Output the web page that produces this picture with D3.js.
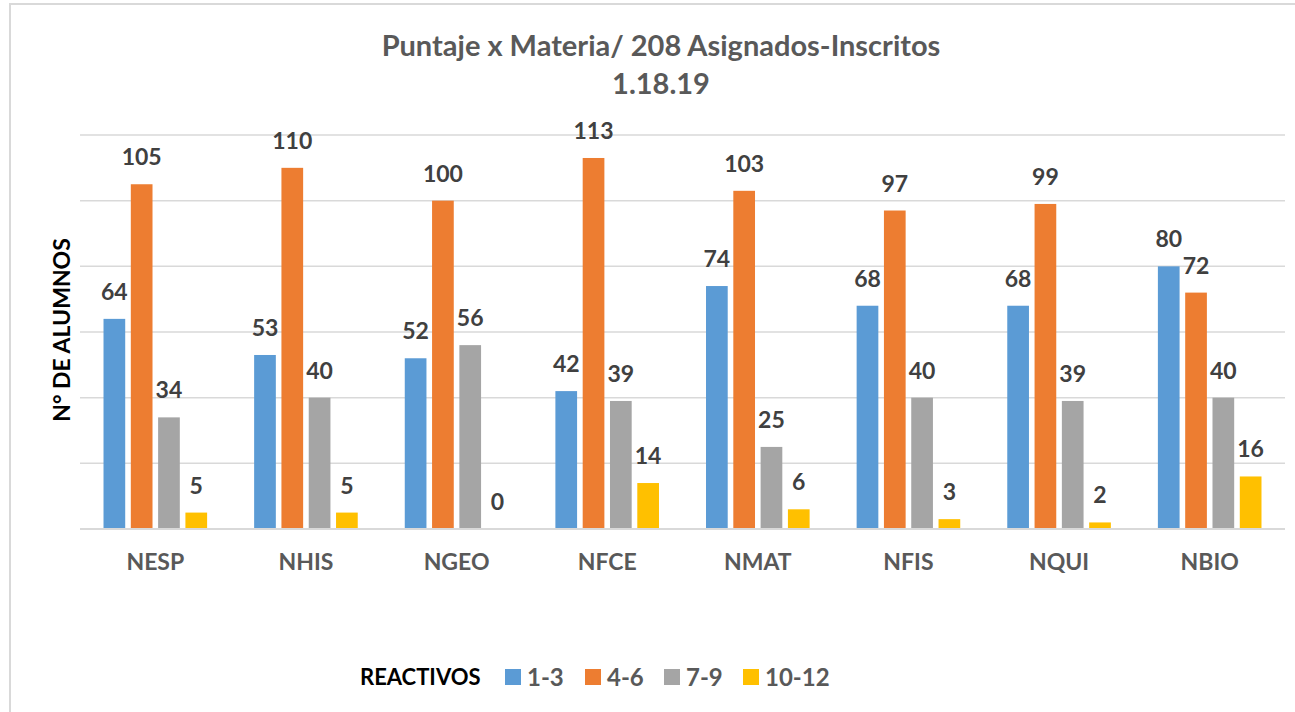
<!DOCTYPE html>
<html>
<head>
<meta charset="utf-8">
<script src="https://cdn.jsdelivr.net/npm/d3@7"></script>
<style>
  body { margin: 0; background: #fff; }
  svg { display: block; font-family: Lato, "Open Sans", sans-serif; font-weight: bold; }
</style>
</head>
<body>
<svg></svg>
<script>
const categories = ["NESP", "NHIS", "NGEO", "NFCE", "NMAT", "NFIS", "NQUI", "NBIO"];
const seriesNames = ["1-3", "4-6", "7-9", "10-12"];
const colors = ["#5b9bd5", "#ed7d31", "#a5a5a5", "#ffc000"];
const s13 = [64, 53, 52, 42, 74, 68, 68, 80];
const s46 = [105, 110, 100, 113, 103, 97, 99, 72];
const s79 = [34, 40, 56, 39, 25, 40, 39, 40];
const s1012 = [5, 5, 0, 14, 6, 3, 2, 16];
const yTicks = [0, 20, 40, 60, 80, 100, 120];

const series = [s13, s46, s79, s1012];
const width = 1295;
const height = 712;
const svg = d3.select("svg").attr("width", width).attr("height", height);

// frame
svg.append("rect")
  .attr("x", 10).attr("y", 4)
  .attr("width", 1300).attr("height", 720)
  .attr("fill", "none").attr("stroke", "#d9d9d9").attr("stroke-width", 2);

const plot = { left: 80, right: 1285, top: 135, bottom: 529 };

const xScale = d3.scaleBand().domain(categories).range([plot.left, plot.right]);
const yScale = d3.scaleLinear().domain([0, 120]).range([plot.bottom, plot.top]);

// gridlines
svg.append("g")
  .selectAll("line")
  .data(yTicks)
  .enter()
  .append("line")
  .attr("x1", plot.left).attr("x2", plot.right)
  .attr("y1", (d) => yScale(d)).attr("y2", (d) => yScale(d))
  .attr("stroke", "#d9d9d9")
  .attr("stroke-width", 1.5);

const step = 27.3;
const barW = 21.7;
const groupW = step * 3 + barW;

series.forEach((vals, si) => {
  const g = svg.append("g");
  const bx = (i) => xScale(categories[i]) + xScale.bandwidth() / 2 - groupW / 2 + si * step;
  g.selectAll("rect")
    .data(vals)
    .enter()
    .append("rect")
    .attr("x", (d, i) => bx(i))
    .attr("y", (d) => yScale(d))
    .attr("width", barW)
    .attr("height", (d) => yScale(0) - yScale(d))
    .attr("fill", colors[si]);
  g.selectAll("text")
    .data(vals)
    .enter()
    .append("text")
    .attr("x", (d, i) => bx(i) + barW / 2)
    .attr("y", (d) => yScale(d) - 19)
    .attr("text-anchor", "middle")
    .attr("font-size", 23)
    .attr("fill", "#404040")
    .text((d) => d);
});

// baseline
svg.append("line")
  .attr("x1", plot.left).attr("x2", plot.right)
  .attr("y1", yScale(0)).attr("y2", yScale(0))
  .attr("stroke", "#d9d9d9").attr("stroke-width", 2);

// x axis labels
const xAxis = d3.axisBottom(xScale).tickSize(0).tickPadding(25);
const xg = svg.append("g")
  .attr("transform", "translate(0," + plot.bottom + ")")
  .call(xAxis);
xg.select(".domain").remove();
xg.selectAll("text")
  .attr("font-family", "Lato, sans-serif")
  .attr("font-weight", "bold")
  .attr("font-size", 23)
  .attr("fill", "#595959");

// title
svg.append("text")
  .attr("x", 661).attr("y", 56)
  .attr("text-anchor", "middle")
  .attr("font-size", 29)
  .attr("fill", "#595959")
  .text("Puntaje x Materia/ 208 Asignados-Inscritos");
svg.append("text")
  .attr("x", 661).attr("y", 94)
  .attr("text-anchor", "middle")
  .attr("font-size", 29)
  .attr("fill", "#595959")
  .text("1.18.19");

// y axis title
svg.append("text")
  .attr("transform", "translate(70,330) rotate(-90)")
  .attr("text-anchor", "middle")
  .attr("font-size", 23)
  .attr("fill", "#000")
  .text("N° DE ALUMNOS");

// legend
svg.append("text")
  .attr("x", 360).attr("y", 685)
  .attr("font-size", 22)
  .attr("fill", "#000")
  .text("REACTIVOS");
const legendX = [505, 585, 664, 743];
const lg = svg.append("g")
  .selectAll("g")
  .data(seriesNames)
  .enter()
  .append("g")
  .attr("transform", (d, i) => "translate(" + legendX[i] + ",669)");
lg.append("rect")
  .attr("width", 16).attr("height", 16)
  .attr("fill", (d, i) => colors[i]);
lg.append("text")
  .attr("x", 22).attr("y", 17)
  .attr("font-size", 24)
  .attr("fill", "#595959")
  .text((d) => d);
</script>
</body>
</html>
